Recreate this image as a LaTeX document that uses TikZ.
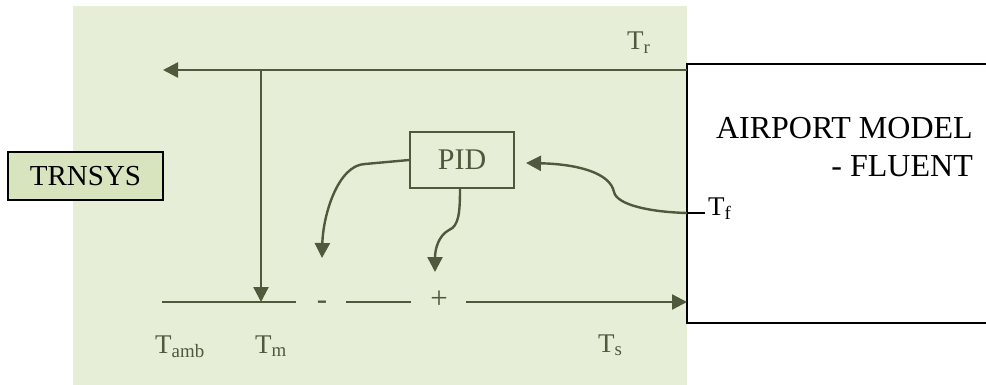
\documentclass[tikz,border=0pt]{standalone}
\usepackage{fontspec}
\setmainfont{Liberation Serif}
\usetikzlibrary{arrows.meta}
\definecolor{olive}{HTML}{4E5A3B}
\definecolor{bggreen}{HTML}{E6EED8}
\definecolor{boxgreen}{HTML}{D7E4BD}
\tikzset{
  flow/.style={draw=olive, line width=2.4pt, -{Triangle[length=15pt,width=15pt]}},
  plainline/.style={draw=olive, line width=2.4pt},
  tlabel/.style={text=olive, font=\fontsize{27}{30}\selectfont, anchor=base west, inner sep=0pt},
  sign/.style={text=olive, font=\fontsize{31}{34}\selectfont, inner sep=0pt},
  bigtext/.style={font=\fontsize{32}{36}\selectfont, inner sep=0pt, anchor=base east},
}
\begin{document}
\begin{tikzpicture}[x=1pt,y=-1pt]
\useasboundingbox (0,0) rectangle (986,385);
% background
\fill[bggreen] (73,6) rectangle (687,385);
% airport box (open to the right)
\draw[black, line width=1.8pt] (990,64) -- (687,64) -- (687,323) -- (990,323);
\coordinate (apTop) at (687,70);
\coordinate (apIn) at (687,302);
\coordinate (apF) at (687,213);
\node[bigtext] (ap1) at (973,139) {AIRPORT MODEL};
\node[bigtext] (ap2) at (973,177) {- FLUENT};
% TRNSYS
\node[draw=black, line width=1.8pt, fill=boxgreen, minimum width=155pt, minimum height=48pt,
      inner sep=0pt, font=\fontsize{29}{32}\selectfont] (trn) at (85.5,176) {TRNSYS};
% PID
\node[draw=olive, line width=1.8pt, minimum width=104pt, minimum height=56pt, inner sep=0pt,
      text=olive, font=\fontsize{30}{34}\selectfont] (pid) at (462,160) {PID};
% coordinates
\coordinate (tipR) at (163,70);
\coordinate (jn) at (261,70);
\coordinate (jm) at (261,302);
\coordinate (a1) at (162,302);
\coordinate (a2) at (296,302);
\coordinate (b1) at (346,302);
\coordinate (b2) at (411,302);
\coordinate (c1) at (466,302);
% top return line
\draw[flow] (apTop) -- (tipR);
\draw[flow] (jn) -- (jm);
% bottom line
\draw[plainline] (a1) -- (a2);
\draw[plainline] (b1) -- (b2);
\draw[flow] (c1) -- (apIn);
% signs
\node[sign] (minus) at (322,305) {-};
\node[sign] (plus) at (439,300) {+};
% PID curves
\draw[flow] (pid.west) -- (365,164) .. controls (338,165) and (323,215) .. (322,258);
\draw[flow] (460,188) .. controls (460,212) and (459,226) .. (449,230) .. controls (438,236) and (435,250) .. (435,272);
% Tf feedback
\draw[flow] (apF) .. controls (650,212) and (617,205) .. (614,192) .. controls (610,172) and (575,164) .. (526,163);
\draw[black, line width=1.8pt] (apF) -- (705,213);
% labels
\node[tlabel] (tr) at (627,50) {T\textsubscript{r}};
\node[tlabel, text=black] (tf) at (708,215) {T\textsubscript{f}};
\node[tlabel] (tamb) at (155,353) {T\textsubscript{amb}};
\node[tlabel] (tm) at (255,353) {T\textsubscript{m}};
\node[tlabel] (ts) at (598,352) {T\textsubscript{s}};
\end{tikzpicture}
\end{document}
